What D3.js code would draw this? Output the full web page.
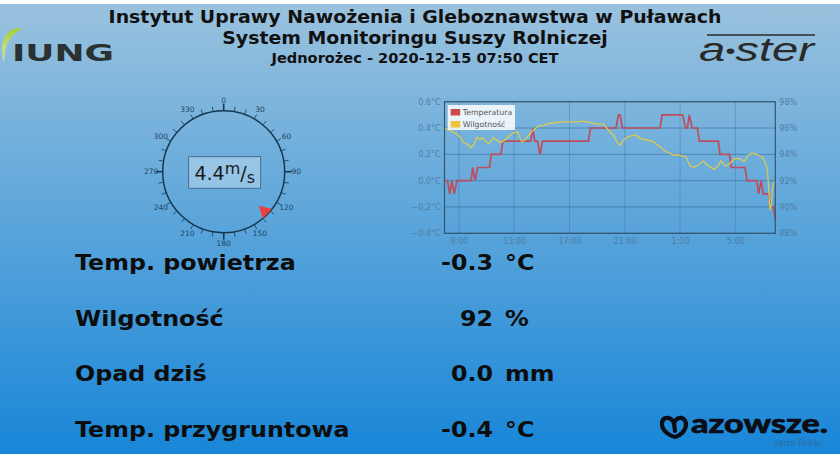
<!DOCTYPE html>
<html>
<head>
<meta charset="utf-8">
<script src="https://cdn.jsdelivr.net/npm/d3@7"></script>
<style>
    html, body { margin: 0; padding: 0; background: #fff; overflow: hidden; }
    svg { display: block; }
    text { font-family: "DejaVu Sans", sans-serif; }
</style>
</head>
<body>
<div id="chart"></div>
<script>
const headerLines = [
    'Instytut Uprawy Nawożenia i Gleboznawstwa w Puławach',
    'System Monitoringu Suszy Rolniczej',
    'Jednorożec - 2020-12-15 07:50 CET',
];

// Readings listed under the charts
const readingLabels = ['Temp. powietrza', 'Wilgotność', 'Opad dziś', 'Temp. przygruntowa'];
const readingValues = ['-0.3', '92', '0.0', '-0.4'];
const readingUnits = ['°C', '%', 'mm', '°C'];

// Wind gauge
const windSpeed = '4.4';
const windDirection = 134;
const compassTicks = d3.range(0, 360, 10);
const compassLabels = [0, 30, 60, 90, 120, 150, 180, 210, 240, 270, 300, 330];

// Hours since midnight of the first day (25 = 1:00 on the next day)
const tempHours = [7.96, 8.18, 8.33, 8.49, 8.66, 8.86, 9.89, 9.99, 10.18, 10.35, 11.22, 11.34, 12.04, 12.18,
    14.20, 14.35, 14.49, 14.69, 14.86, 15.05, 18.37, 18.52, 20.37, 20.54, 20.66, 20.83, 23.55, 23.70,
    25.19, 25.39, 25.53, 25.67, 25.87, 26.25, 26.40, 27.77, 27.89, 28.57, 28.71, 29.70, 29.84,
    30.54, 30.69, 30.86, 31.02, 31.39, 31.55, 31.75, 31.89];
const tempValues = [0, 0, -0.1, 0, -0.1, 0, 0, 0.1, 0, 0.1, 0.1, 0.2, 0.2, 0.3,
    0.3, 0.4, 0.3, 0.3, 0.2, 0.3, 0.3, 0.4, 0.4, 0.5, 0.5, 0.4, 0.4, 0.5,
    0.5, 0.4, 0.4, 0.5, 0.4, 0.4, 0.3, 0.3, 0.2, 0.2, 0.1, 0.1, 0,
    0, -0.1, 0, -0.1, -0.1, -0.2, -0.2, -0.3];

const humHours = [7.96, 8.37, 8.86, 9.22, 9.34, 9.58, 9.87, 10.06, 10.30, 10.54, 10.73, 10.98, 11.17, 11.51,
    11.80, 11.99, 12.35, 12.71, 13.0, 13.24, 13.55, 13.80, 14.16, 14.45, 14.76, 15.12, 15.48, 16.08, 16.33,
    17.05, 17.53, 17.96, 18.49, 18.98, 19.46, 19.65, 19.94, 20.18, 20.42, 20.66, 20.90, 21.27, 21.75, 22.11,
    22.59, 23.07, 23.55, 23.92, 24.52, 24.88, 25.43, 25.72, 26.01, 26.33, 26.69, 27.05, 27.46, 27.70, 27.96,
    28.25, 28.57, 28.98, 29.34, 29.65, 29.94, 30.25, 30.66, 31.02, 31.31, 31.51, 31.60, 31.70, 31.89];
const humValues = [96.0, 95.8, 95.54, 95.16, 94.9, 94.8, 94.5, 94.7, 95.3, 95.14, 95.27, 94.96, 94.8, 95.27,
    95.04, 94.9, 95.1, 95.47, 95.65, 95.7, 94.96, 95.1, 95.6, 95.9, 96.15, 96.18, 96.35, 96.4, 96.46,
    96.46, 96.46, 96.53, 96.43, 96.3, 96.3, 96.05, 95.7, 95.47, 94.96, 94.7, 95.09, 95.34, 95.47, 95.22,
    95.09, 94.96, 94.58, 94.25, 93.95, 93.95, 93.82, 93.11, 93.01, 93.19, 93.49, 93.11, 92.86, 93.06, 93.52,
    93.11, 93.27, 93.70, 93.65, 93.44, 93.95, 94.08, 93.95, 93.70, 92.94, 89.77, 90.15, 91.54, 92.0];

const hourTicks = [9, 13, 17, 21, 25, 29];
const hourLabels = ['9:00', '13:00', '17:00', '21:00', '1:00', '5:00'];
const tempTicks = [-0.4, -0.2, 0, 0.2, 0.4, 0.6];
const humTicks = [88, 90, 92, 94, 96, 98];
const legendNames = ['Temperatura', 'Wilgotność'];
const legendColors = ['#cb4b4b', '#edc240'];

const svg = d3.select('#chart').append('svg')
    .attr('width', 840)
    .attr('height', 454);

// The original font is wider than DejaVu Bold, so stretch the glyphs to suit
const stretchText = (sel, factor) => {
    sel.attr('lengthAdjust', 'spacingAndGlyphs')
        .attr('textLength', function() { return this.getComputedTextLength() * factor; });
};

// Page background
const defs = svg.append('defs');
let grad = defs.append('linearGradient')
    .attr('id', 'bg').attr('x1', 0).attr('y1', 0).attr('x2', 0).attr('y2', 1);
grad.append('stop').attr('offset', 0).attr('stop-color', '#9ac2de');
grad.append('stop').attr('offset', 1).attr('stop-color', '#1886d7');
let leafGrad = defs.append('linearGradient')
    .attr('id', 'leaf').attr('x1', 0).attr('y1', 0).attr('x2', 0).attr('y2', 1);
leafGrad.append('stop').attr('offset', 0).attr('stop-color', '#a4cc2c');
leafGrad.append('stop').attr('offset', 0.5).attr('stop-color', '#c4dc70');
leafGrad.append('stop').attr('offset', 1).attr('stop-color', '#c2d8c8');
svg.append('rect').attr('x', 0).attr('y', 4).attr('width', 840).attr('height', 450).attr('fill', 'url(#bg)');

// Header
const headerY = [23, 44, 63];
const headerSize = [17.5, 17.5, 13.5];
svg.selectAll('.header')
    .data(headerLines)
    .enter()
    .append('text')
    .attr('class', 'header')
    .attr('x', 415)
    .attr('y', (d, i) => headerY[i])
    .attr('text-anchor', 'middle')
    .attr('font-weight', 'bold')
    .attr('font-size', (d, i) => headerSize[i])
    .attr('fill', '#111')
    .text((d) => d)
    .call(stretchText, 1.08);

// Logos
const logos = svg.append('g');
logos.append('path')
    .attr('d', 'M22 28 C9 27 1 38 2 52 C2 56 3 60 4 63 C5 55 5 48 8 42 C11 36 16 32 22 28 Z')
    .attr('fill', 'url(#leaf)');
logos.append('text')
    .attr('x', 12).attr('y', 61)
    .attr('font-size', 23).attr('font-weight', 'bold')
    .attr('textLength', 102).attr('lengthAdjust', 'spacingAndGlyphs')
    .attr('fill', '#2b3033')
    .text('IUNG');
logos.append('line')
    .attr('x1', 707).attr('x2', 815).attr('y1', 35).attr('y2', 35)
    .attr('stroke', '#2a2a2a').attr('stroke-width', 1.5);
let aster = logos.append('text')
    .attr('x', 699).attr('y', 61)
    .style('font-family', '"Liberation Sans", sans-serif')
    .attr('font-size', 33).attr('font-style', 'italic')
    .attr('textLength', 115).attr('lengthAdjust', 'spacingAndGlyphs')
    .attr('fill', '#2a2a2a');
aster.append('tspan').text('a');
aster.append('tspan').attr('dy', -3).attr('font-size', 20).text('•');
aster.append('tspan').attr('dy', 3).text('ster');
logos.append('path')
    .attr('d', 'M662 424 C662 417 670 415 674 423 C678 415 685 417 686 424 C686 431 680 436 675 437 C670 436 662 431 662 424 M674 423 L675 431')
    .attr('fill', 'none')
    .attr('stroke', '#0c0c14')
    .attr('stroke-width', 4.2)
    .attr('stroke-linejoin', 'round')
    .attr('stroke-linecap', 'round');
logos.append('text')
    .attr('x', 691).attr('y', 433)
    .style('font-family', 'Lato, sans-serif')
    .attr('font-size', 26).attr('font-weight', 900)
    .attr('textLength', 137).attr('lengthAdjust', 'spacingAndGlyphs')
    .attr('fill', '#0c0c14')
    .attr('stroke', '#0c0c14')
    .attr('stroke-width', 0.6)
    .text('azowsze.');
logos.append('text')
    .attr('x', 821).attr('y', 446)
    .attr('text-anchor', 'end')
    .style('font-family', '"Open Sans", sans-serif')
    .attr('font-size', 8.5)
    .attr('fill', '#2f689c')
    .text('serce Polski');

// Wind gauge
const cx = 223.7, cy = 171.7, radius = 61;
const gauge = svg.append('g').attr('transform', `translate(${cx},${cy})`);
const angle = d3.scaleLinear().domain([0, 360]).range([-Math.PI / 2, 1.5 * Math.PI]);
const gaugeColor = '#17374f';

gauge.append('circle')
    .attr('r', radius)
    .attr('fill', 'none')
    .attr('stroke', gaugeColor)
    .attr('stroke-width', 1.5);

gauge.selectAll('.tick')
    .data(compassTicks)
    .enter()
    .append('line')
    .attr('x1', (d) => radius * Math.cos(angle(d)))
    .attr('y1', (d) => radius * Math.sin(angle(d)))
    .attr('x2', (d) => (radius + (d % 90 === 0 ? 7 : 5)) * Math.cos(angle(d)))
    .attr('y2', (d) => (radius + (d % 90 === 0 ? 7 : 5)) * Math.sin(angle(d)))
    .attr('stroke', gaugeColor)
    .attr('stroke-width', (d) => d % 90 === 0 ? 1.6 : 0.8);

gauge.selectAll('.compass-label')
    .data(compassLabels)
    .enter()
    .append('text')
    .attr('class', 'compass-label')
    .attr('x', (d) => (radius + 11.5) * Math.cos(angle(d)))
    .attr('y', (d) => (radius + 10.5) * Math.sin(angle(d)) + 2.7)
    .attr('text-anchor', 'middle')
    .attr('font-size', 7.5)
    .attr('fill', '#24445c')
    .text((d) => d);

// Direction marker sits just inside the ring and points at the centre
const markerR = (r, off) => {
    let a = angle(windDirection) + off;
    return `${r * Math.cos(a)},${r * Math.sin(a)}`;
};
gauge.append('polygon')
    .attr('points', [markerR(49, 0), markerR(61, 0.11), markerR(61, -0.11)].join(' '))
    .attr('fill', '#e8413c');

gauge.append('rect')
    .attr('x', -35).attr('y', -15).attr('width', 72).attr('height', 31.5)
    .attr('fill', 'rgba(255,255,255,0.3)')
    .attr('stroke', '#38607f')
    .attr('stroke-width', 0.8);
let speed = gauge.append('text').attr('x', 1).attr('y', 8).attr('text-anchor', 'middle').attr('font-size', 19).attr('fill', '#1a1a1a');
speed.append('tspan').text(windSpeed);
speed.append('tspan').attr('dy', -6).attr('font-size', 16).text('m');
speed.append('tspan').attr('dy', 6).attr('font-size', 19).text('/');
speed.append('tspan').attr('dy', 3).attr('font-size', 16).text('s');

// Temperature and humidity plot
const plot = { left: 444.5, right: 775.3, top: 101.7, bottom: 233.3 };
const x = d3.scaleLinear().domain([7.96, 31.89]).range([plot.left, plot.right]);
const yTemp = d3.scaleLinear().domain([-0.4, 0.6]).range([plot.bottom, plot.top]);
const yHum = d3.scaleLinear().domain([88, 98]).range([plot.bottom, plot.top]);
const axisColor = '#4f7ea4';

svg.append('g')
    .selectAll('line')
    .data(hourTicks)
    .enter()
    .append('line')
    .attr('x1', (d) => x(d)).attr('x2', (d) => x(d))
    .attr('y1', plot.top).attr('y2', plot.bottom)
    .attr('stroke', '#1d4a70').attr('stroke-opacity', 0.3).attr('stroke-width', 0.8);
svg.append('g')
    .selectAll('line')
    .data(tempTicks)
    .enter()
    .append('line')
    .attr('x1', plot.left).attr('x2', plot.right)
    .attr('y1', (d) => yTemp(d)).attr('y2', (d) => yTemp(d))
    .attr('stroke', '#1d4a70').attr('stroke-opacity', 0.5).attr('stroke-width', 0.8);

const styleAxis = (g) => {
    g.select('.domain').remove();
    g.selectAll('.tick line').remove();
    g.selectAll('text')
        .attr('font-size', 8)
        .attr('fill', axisColor)
        .style('font-family', '"DejaVu Sans", sans-serif');
};

svg.append('g')
    .attr('transform', `translate(0,${plot.bottom})`)
    .call(d3.axisBottom(x).tickValues(hourTicks).tickFormat((d, i) => hourLabels[i]).tickSize(0).tickPadding(5))
    .call(styleAxis);
svg.append('g')
    .attr('transform', `translate(${plot.left},0)`)
    .call(d3.axisLeft(yTemp).tickValues(tempTicks).tickFormat((d) => d3.format('.1f')(d) + '°C').tickSize(0).tickPadding(4))
    .call(styleAxis);
svg.append('g')
    .attr('transform', `translate(${plot.right},0)`)
    .call(d3.axisRight(yHum).tickValues(humTicks).tickFormat((d) => d + '%').tickSize(0).tickPadding(4))
    .call(styleAxis);

svg.append('path')
    .datum(d3.zip(tempHours, tempValues))
    .attr('fill', 'none')
    .attr('stroke', '#bf4c5c')
    .attr('stroke-width', 1.7)
    .attr('d', d3.line().x((d) => x(d[0])).y((d) => yTemp(d[1])));
svg.append('path')
    .datum(d3.zip(humHours, humValues))
    .attr('fill', 'none')
    .attr('stroke', '#dcc94f')
    .attr('stroke-width', 1.3)
    .attr('d', d3.line().x((d) => x(d[0])).y((d) => yHum(d[1])));

svg.append('rect')
    .attr('x', plot.left).attr('y', plot.top)
    .attr('width', plot.right - plot.left).attr('height', plot.bottom - plot.top)
    .attr('fill', 'none')
    .attr('stroke', '#34566f')
    .attr('stroke-width', 1.2);

// Legend
const legend = svg.append('g').attr('transform', 'translate(447.7,105)');
legend.append('rect').attr('width', 67.3).attr('height', 25).attr('fill', '#fff').attr('fill-opacity', 0.85);
legend.selectAll('.swatch')
    .data(legendNames)
    .enter()
    .append('rect')
    .attr('class', 'swatch')
    .attr('x', 3).attr('y', (d, i) => 4 + i * 12)
    .attr('width', 9.5).attr('height', 6.5)
    .attr('fill', (d, i) => legendColors[i]);
legend.selectAll('.legend-label')
    .data(legendNames)
    .enter()
    .append('text')
    .attr('class', 'legend-label')
    .attr('x', 15).attr('y', (d, i) => 10 + i * 12)
    .attr('font-size', 7.8)
    .attr('fill', '#555')
    .text((d) => d);

// Readings
const rowY = [270, 325.5, 381, 436.5];
const rows = svg.selectAll('.reading')
    .data(readingLabels)
    .enter()
    .append('g')
    .attr('class', 'reading')
    .attr('font-weight', 'bold')
    .attr('font-size', 22)
    .attr('fill', '#0d0d0d');
rows.append('text').attr('x', 75).attr('y', (d, i) => rowY[i]).text((d) => d).call(stretchText, 1.08);
rows.append('text').attr('x', 493).attr('y', (d, i) => rowY[i]).attr('text-anchor', 'end').text((d, i) => readingValues[i]).call(stretchText, 1.08);
rows.append('text').attr('x', 505).attr('y', (d, i) => rowY[i]).text((d, i) => readingUnits[i]).call(stretchText, 1.08);
</script>
</body>
</html>
